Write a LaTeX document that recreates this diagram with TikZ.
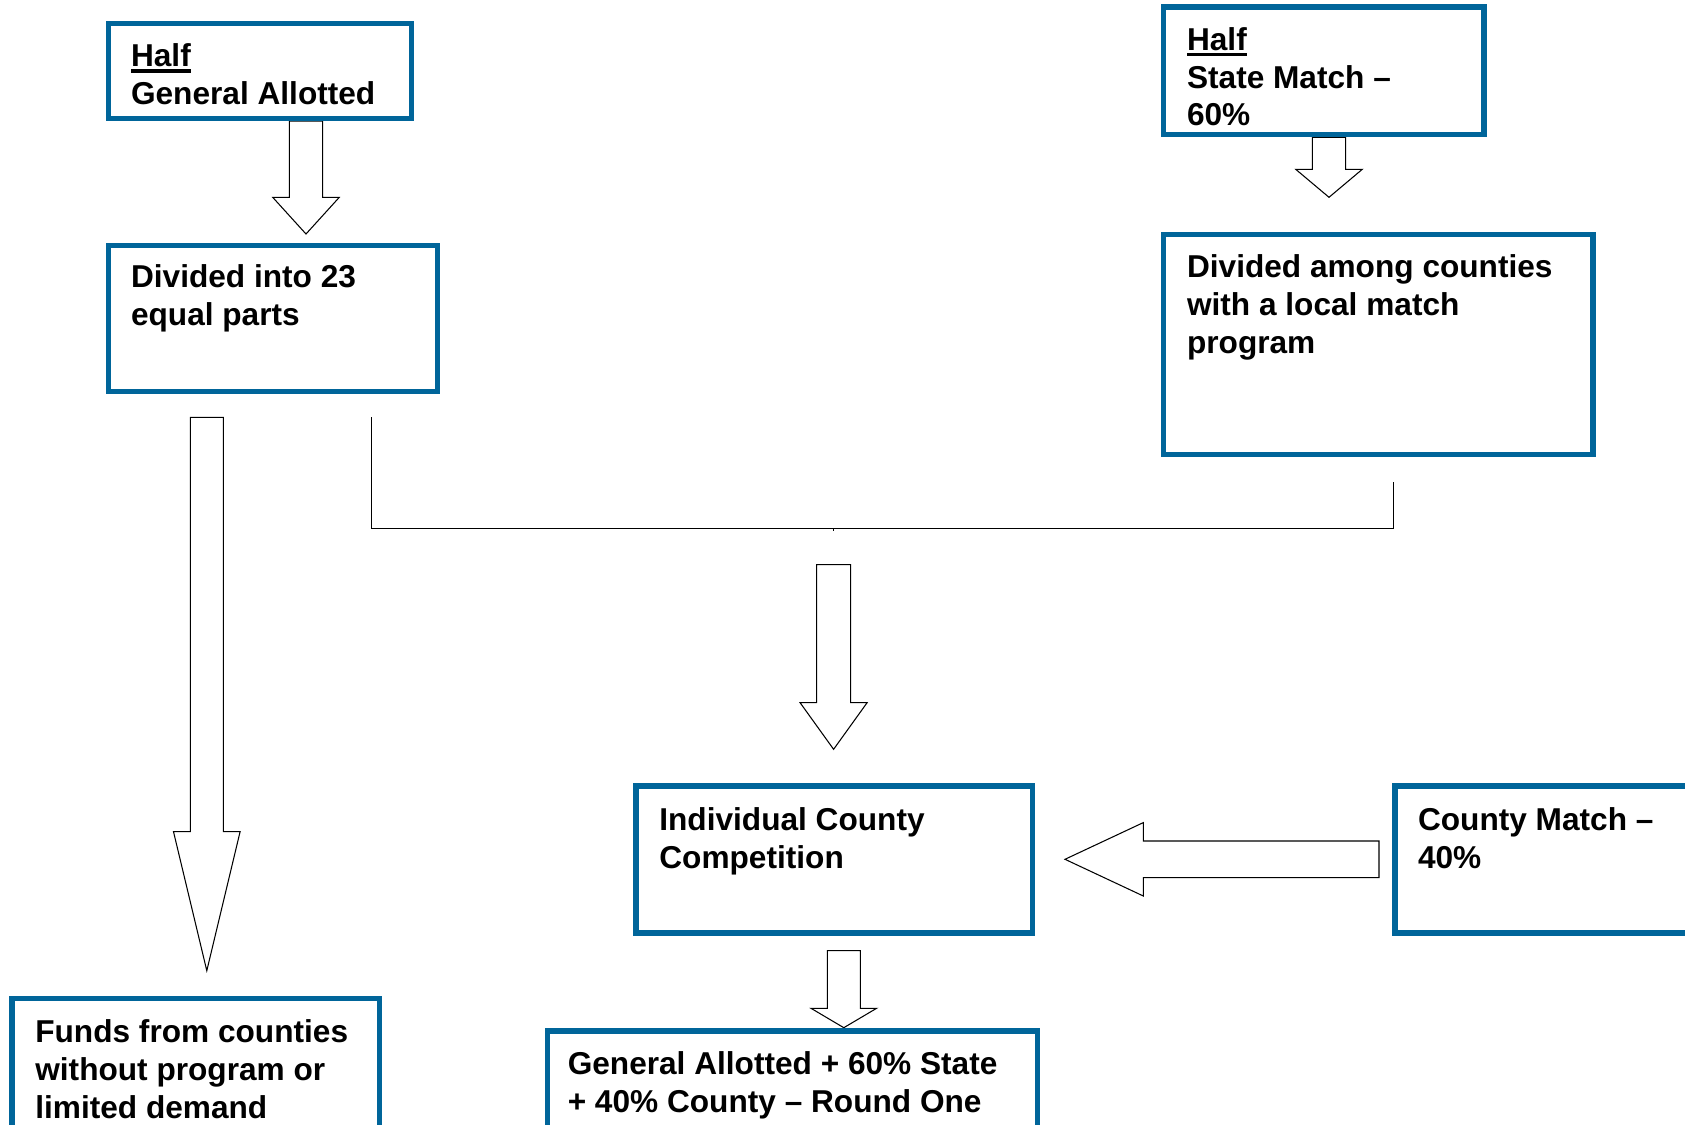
\documentclass[tikz,border=0pt]{standalone}
\usepackage{fontspec}
\setmainfont{Liberation Sans}
\definecolor{boxblue}{RGB}{0,101,154}

% thick underline as in the source
\newcommand{\thickul}[1]{\setbox0\hbox{#1}\rlap{\rule[-3.4pt]{\wd0}{2pt}}\box0}
% block arrows: axis, tail, head base, tip, shaft half width, head half width
\newcommand{\blockdown}[6]{\draw[blockarrow] ({#1-#5},#2) -- ({#1-#5},#3) -- ({#1-#6},#3) -- (#1,#4) -- ({#1+#6},#3) -- ({#1+#5},#3) -- ({#1+#5},#2) -- cycle;}
\newcommand{\blockleft}[6]{\draw[blockarrow] (#2,{#1-#5}) -- (#3,{#1-#5}) -- (#3,{#1-#6}) -- (#4,#1) -- (#3,{#1+#6}) -- (#3,{#1+#5}) -- (#2,{#1+#5}) -- cycle;}

\begin{document}
\begin{tikzpicture}[x=0.02cm, y=-0.02cm,
  panel/.style={draw=boxblue, line width=3pt, rectangle, anchor=north west, inner sep=0pt, outer sep=0pt},
  txt/.style={anchor=north west, inner sep=0pt, align=left, font={\fontsize{18}{21.5}\selectfont\bfseries}},
  blockarrow/.style={draw=black, fill=white, line width=0.6pt, line join=miter},
  bracket/.style={draw=black, line width=0.9pt}]
\clip (0,0) rectangle (1685,1125);

% block arrows
\blockdown{306}{121}{197.3}{234}{16.7}{33.3}
\blockdown{1329}{137.3}{169.3}{197.3}{16.7}{33.3}
\blockdown{206.8}{417.3}{831.7}{970.7}{16.5}{33.3}
\blockdown{833.6}{564.7}{702.7}{749.3}{17}{33.5}
\blockdown{843.8}{950.7}{1008.3}{1027.7}{16.5}{32.8}
\blockleft{859.3}{1379}{1143.3}{1065}{18.3}{36.7}

% boxes
\node[panel, minimum width=6.068cm, minimum height=1.9cm] (halfgen) at (108.3,23.3) {};
\node[panel, minimum width=6.588cm, minimum height=2.928cm] (divided) at (108.3,245.3) {};
\node[panel, minimum width=6.406cm, minimum height=2.554cm] (halfstate) at (1163.7,7) {};
\node[panel, minimum width=8.586cm, minimum height=4.408cm] (among) at (1163.7,234.3) {};
\node[panel, minimum width=7.926cm, minimum height=2.94cm] (compete) at (636,786) {};
\node[panel, minimum width=6.1cm, minimum height=2.94cm] (countymatch) at (1395,786) {};
\node[panel, minimum width=9.796cm, minimum height=2.18cm] (total) at (547.5,1031) {};
\node[panel, minimum width=7.354cm, minimum height=2.826cm] (funds) at (12,998.7) {};

% texts
\node[txt] (halfgentxt) at (130.7,43.7) {\thickul{Half}\\General Allotted};
\node[txt] (dividedtxt) at (130.7,264.3) {Divided into 23\\equal parts};
\node[txt] (halfstatetxt) at (1186.7,27) {\thickul{Half}\\State Match –\\60\%};
\node[txt] (amongtxt) at (1186.7,254.3) {Divided among counties\\with a local match\\program};
\node[txt] (competetxt) at (659,807) {Individual County\\Competition};
\node[txt] (countymatchtxt) at (1417.7,807) {County Match –\\40\%};
\node[txt] (totaltxt) at (567.4,1051.3) {General Allotted + 60\% State\\+ 40\% County – Round One};
\node[txt] (fundstxt) at (35,1019.3) {Funds from counties\\without program or\\limited demand};

% joining line
\coordinate (jl) at (371.7,417.3);
\coordinate (jm) at (833.6,528.3);
\coordinate (jr) at (1393.3,481.7);
\path[bracket] (jl) |- (jm) -| (jr);
\path[draw, line width=0.5pt] (jm) -- ++(0,2.5);
\end{tikzpicture}
\end{document}
